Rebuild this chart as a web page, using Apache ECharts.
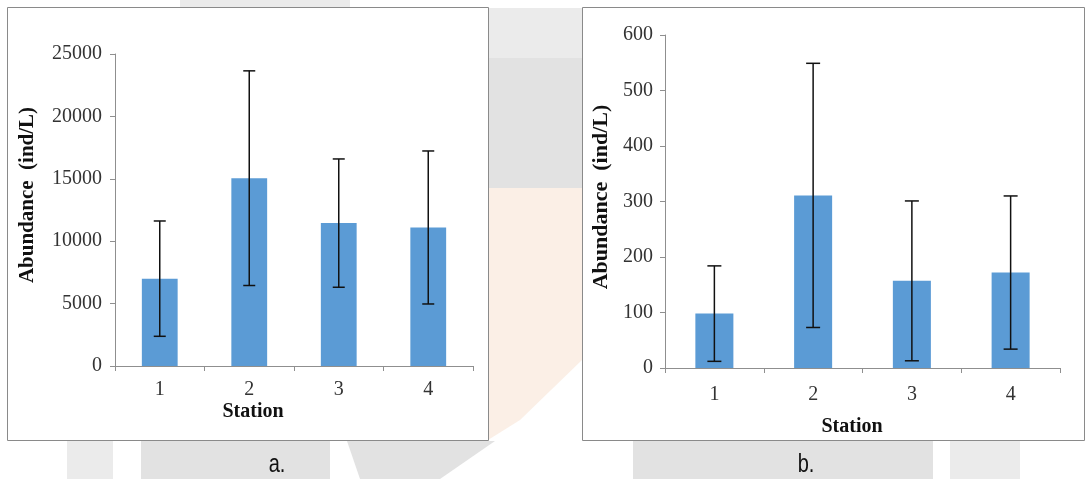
<!DOCTYPE html>
<html>
<head>
<meta charset="utf-8">
<script src="https://cdn.jsdelivr.net/npm/echarts@6/dist/echarts.min.js"></script>
<style>
html,body{margin:0;padding:0;background:#fff;}
#chart{width:1086px;height:479px;}
</style>
</head>
<body>
<div id="chart"></div>
<script>
// ---- data ----
const stations = ['1', '2', '3', '4'];
const abundanceA = [7000, 15050, 11450, 11100];   // ind/L, panel a
const sdA = [4620, 8600, 5140, 6130];
const abundanceB = [98, 311, 157, 172];            // ind/L, panel b
const sdB = [86, 238, 144, 138];
const yTicksA = [0, 5000, 10000, 15000, 20000, 25000];
const yTicksB = [0, 100, 200, 300, 400, 500, 600];
const yTitle = 'Abundance  (ind/L)';
const xTitle = 'Station';
const panelLabels = ['a.', 'b.'];

const serif = '"Liberation Serif", "Times New Roman", serif';
const sans = '"Liberation Sans", "Noto Sans", sans-serif';
const axisGray = '#8f8f8f';
const textColor = '#333333';
const barColor = '#5B9BD5';

function errData(means, sds) {
  return means.map((m, i) => [i, m - sds[i], m + sds[i]]);
}
function errSeries(xi, yi, means, sds, capHalf) {
  return {
    type: 'custom',
    xAxisIndex: xi, yAxisIndex: yi,
    z: 5,
    silent: true,
    data: errData(means, sds),
    renderItem: function (params, api) {
      const x = api.value(0);
      const lo = api.coord([x, api.value(1)]);
      const hi = api.coord([x, api.value(2)]);
      const style = { stroke: '#111', lineWidth: 1.5 };
      return {
        type: 'group',
        children: [
          { type: 'line', shape: { x1: lo[0], y1: lo[1], x2: hi[0], y2: hi[1] }, style: style },
          { type: 'line', shape: { x1: lo[0] - capHalf, y1: lo[1], x2: lo[0] + capHalf, y2: lo[1] }, style: style },
          { type: 'line', shape: { x1: hi[0] - capHalf, y1: hi[1], x2: hi[0] + capHalf, y2: hi[1] }, style: style }
        ]
      };
    }
  };
}

function xAxisCfg(gi, margin, fs) {
  return {
    type: 'category', gridIndex: gi, data: stations,
    axisLine: { lineStyle: { color: axisGray, width: 1 } },
    axisTick: { show: true, length: 5, lineStyle: { color: axisGray } },
    axisLabel: { color: textColor, fontFamily: serif, fontSize: fs, margin: margin },
    splitLine: { show: false }
  };
}
function yAxisCfg(gi, ticks, margin, fs) {
  return {
    type: 'value', gridIndex: gi,
    min: ticks[0], max: ticks[ticks.length - 1],
    interval: ticks[1] - ticks[0],
    axisLine: { show: true, lineStyle: { color: axisGray, width: 1 } },
    axisTick: { show: true, length: 5, lineStyle: { color: axisGray } },
    axisLabel: { color: textColor, fontFamily: serif, fontSize: fs, margin: margin,
                 formatter: function (v) { return String(v); } },
    splitLine: { show: false }
  };
}

const wm = '#e2e2e2';
const wm2 = '#ebebeb';
const option = {
  animation: false,
  backgroundColor: '#ffffff',
  grid: [
    { left: 115, top: 54, width: 358, height: 312, containLabel: false },
    { left: 665, top: 35, width: 395, height: 333, containLabel: false }
  ],
  xAxis: [xAxisCfg(0, 14, 20), xAxisCfg(1, 17, 20)],
  yAxis: [yAxisCfg(0, yTicksA, 13, 20), yAxisCfg(1, yTicksB, 12, 20)],
  series: [
    { type: 'bar', xAxisIndex: 0, yAxisIndex: 0, data: abundanceA, barWidth: '40%',
      itemStyle: { color: barColor } },
    errSeries(0, 0, abundanceA, sdA, 6),
    { type: 'bar', xAxisIndex: 1, yAxisIndex: 1, data: abundanceB, barWidth: '38.5%',
      itemStyle: { color: barColor } },
    errSeries(1, 1, abundanceB, sdB, 7)
  ],
  graphic: [
    // faint watermark shapes behind
    { type: 'rect', z: -20, shape: { x: 180, y: 0, width: 170, height: 8 }, style: { fill: wm2 } },
    { type: 'rect', z: -20, shape: { x: 488, y: 8, width: 94, height: 50 }, style: { fill: wm2 } },
    { type: 'rect', z: -20, shape: { x: 488, y: 58, width: 94, height: 130 }, style: { fill: wm } },
    { type: 'polygon', z: -20, shape: { points: [[488, 188], [582, 188], [582, 360], [520, 420], [488, 440]] }, style: { fill: '#fbefe6' } },
    { type: 'rect', z: -20, shape: { x: 67, y: 441, width: 46, height: 38 }, style: { fill: wm2 } },
    { type: 'rect', z: -20, shape: { x: 141, y: 441, width: 189, height: 38 }, style: { fill: wm } },
    { type: 'polygon', z: -20, shape: { points: [[347, 441], [495, 441], [440, 479], [360, 479]] }, style: { fill: wm } },
    { type: 'rect', z: -20, shape: { x: 633, y: 441, width: 300, height: 38 }, style: { fill: wm } },
    { type: 'rect', z: -20, shape: { x: 950, y: 441, width: 70, height: 38 }, style: { fill: wm2 } },
    // panel frames
    { type: 'rect', z: -10, shape: { x: 7.5, y: 7.5, width: 481, height: 433 },
      style: { fill: '#ffffff', stroke: '#8a8a8a', lineWidth: 1 } },
    { type: 'rect', z: -10, shape: { x: 582.5, y: 7.5, width: 502, height: 433 },
      style: { fill: '#ffffff', stroke: '#8a8a8a', lineWidth: 1 } },
    // y-axis titles
    { type: 'text', x: 28, y: 195, rotation: Math.PI / 2, z: 10,
      style: { text: yTitle, fontFamily: serif, fontWeight: 'bold', fontSize: 21, fill: '#111',
               align: 'center', verticalAlign: 'middle' } },
    { type: 'text', x: 601, y: 197, rotation: Math.PI / 2, z: 10,
      style: { text: yTitle, fontFamily: serif, fontWeight: 'bold', fontSize: 22, fill: '#111',
               align: 'center', verticalAlign: 'middle' } },
    // x-axis titles
    { type: 'text', x: 253, y: 412, z: 10,
      style: { text: xTitle, fontFamily: serif, fontWeight: 'bold', fontSize: 20, fill: '#111',
               align: 'center', verticalAlign: 'middle' } },
    { type: 'text', x: 852, y: 427, z: 10,
      style: { text: xTitle, fontFamily: serif, fontWeight: 'bold', fontSize: 20, fill: '#111',
               align: 'center', verticalAlign: 'middle' } },
    // panel labels
    { type: 'text', x: 277, y: 465, z: 10, scaleY: 1.3,
      style: { text: panelLabels[0], fontFamily: sans, fontSize: 20, fill: '#111',
               align: 'center', verticalAlign: 'middle' } },
    { type: 'text', x: 806, y: 465, z: 10, scaleY: 1.3,
      style: { text: panelLabels[1], fontFamily: sans, fontSize: 20, fill: '#111',
               align: 'center', verticalAlign: 'middle' } }
  ]
};

const chart = echarts.init(document.getElementById('chart'), null, { renderer: 'canvas' });
chart.setOption(option);
</script>
</body>
</html>
